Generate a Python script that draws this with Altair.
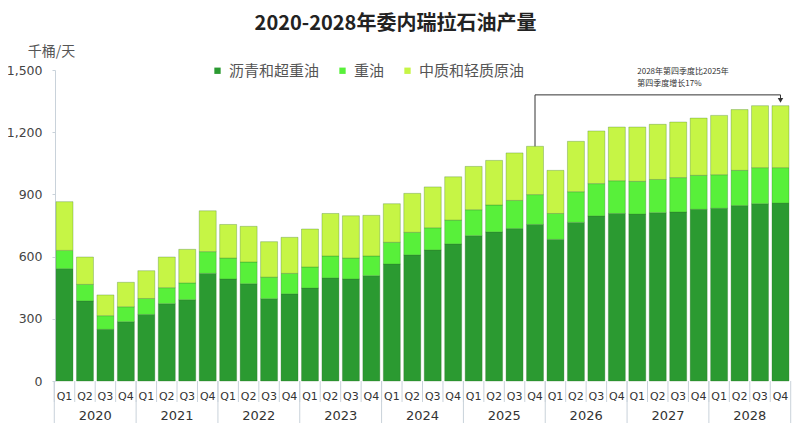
import altair as alt
import pandas as pd

years = ["2020", "2021", "2022", "2023", "2024", "2025", "2026", "2027", "2028"]
quarters = ["Q1", "Q2", "Q3", "Q4"]
series = ["沥青和超重油", "重油", "中质和轻质原油"]
colors = ["#2b9a31", "#58f03a", "#c6f545"]

extra_heavy = [542, 386, 249, 286, 321, 373, 392, 519, 492, 469, 397, 420,
               448, 497, 492, 508, 564, 608, 632, 661, 701, 719, 735, 755,
               683, 765, 796, 808, 805, 812, 815, 828, 833, 846, 855, 858]
heavy = [88, 80, 66, 72, 77, 77, 81, 105, 101, 105, 104, 99,
         102, 106, 101, 95, 105, 109, 107, 115, 125, 130, 136, 144,
         125, 148, 156, 158, 158, 160, 166, 164, 162, 170, 174, 171]
light = [235, 132, 100, 118, 134, 148, 162, 197, 162, 172, 171, 174,
         183, 205, 204, 196, 186, 188, 197, 209, 209, 215, 229, 233,
         208, 243, 254, 259, 262, 266, 268, 276, 286, 293, 299, 299]
y_ticks = [0, 300, 600, 900, 1200, 1500]
y_title = "千桶/天"

keys = [y + q for y in years for q in quarters]
rows = []
for i, k in enumerate(keys):
    for j, (name, vals) in enumerate(zip(series, [extra_heavy, heavy, light])):
        rows.append({"key": k, "series": name, "value": vals[i], "ord": j})
df = pd.DataFrame(rows)
totals = [a + b + c for a, b, c in zip(extra_heavy, heavy, light)]

W, H = 735, 311
P_IN, P_OUT = 0.17, 0.05
step = W / (len(keys) - P_IN + 2 * P_OUT)
half_gap = P_IN * step / 2

grid_col = "#c9d2da"
xscale = alt.Scale(domain=keys, paddingInner=P_IN, paddingOuter=P_OUT)

bars = alt.Chart(df).mark_bar(stroke="#2f6f2a", strokeWidth=0.5, strokeOpacity=0.6).encode(
    x=alt.X("key:N", scale=xscale, title=None,
            axis=alt.Axis(labelExpr="substring(datum.label, 4)", ticks=False, tickSize=0,
                          domain=False, labelAngle=0, labelFont="DejaVu Sans",
                          labelFontSize=11, labelColor="#333", labelPadding=9)),
    y=alt.Y("value:Q", stack="zero", scale=alt.Scale(domain=[0, 1500], nice=False),
            title=y_title,
            axis=alt.Axis(values=y_ticks, format=",d", grid=False, domainColor=grid_col,
                          tickColor=grid_col, tickSize=3, labelPadding=10,
                          labelFont="DejaVu Sans", labelFontSize=12.5, labelColor="#444",
                          titleAngle=0, titleAlign="center",
                          titleBaseline="middle", titleX=-4, titleY=-19,
                          titleFont="Noto Sans CJK SC", titleFontSize=14,
                          titleFontWeight="normal", titleColor="#555")),
    color=alt.Color("series:N", scale=alt.Scale(domain=series, range=colors),
                    legend=alt.Legend(orient="none", legendX=155, legendY=-7,
                                      direction="horizontal", title=None,
                                      symbolType="square", symbolSize=40,
                                      symbolStrokeWidth=0,
                                      labelFont="Noto Sans CJK SC", labelFontSize=15,
                                      labelColor="#555", labelOffset=4,
                                      columnPadding=15, padding=0)),
    order=alt.Order("ord:Q"),
)

q_df = pd.DataFrame({"key": keys})
q_sep = alt.Chart(q_df).mark_rule(color=grid_col, strokeWidth=1, xOffset=-half_gap).encode(
    x=alt.X("key:N", bandPosition=0, title=None),
    y=alt.value(H), y2=alt.value(H + 21),
)
y_df = pd.DataFrame({"key": [y + "Q1" for y in years]})
y_sep = alt.Chart(y_df).mark_rule(color=grid_col, strokeWidth=1, xOffset=-half_gap).encode(
    x=alt.X("key:N", bandPosition=0, title=None),
    y=alt.value(H), y2=alt.value(H + 42),
)
end_df = pd.DataFrame({"key": [keys[-1]]})
end_sep = alt.Chart(end_df).mark_rule(color=grid_col, strokeWidth=1, xOffset=half_gap).encode(
    x=alt.X("key:N", bandPosition=1, title=None),
    y=alt.value(H), y2=alt.value(H + 42),
)
yl_df = pd.DataFrame({"key": [y + "Q2" for y in years], "year": years})
year_labels = alt.Chart(yl_df).mark_text(xOffset=half_gap, fontSize=13, font="DejaVu Sans",
                                         color="#333", baseline="middle").encode(
    x=alt.X("key:N", bandPosition=1, title=None),
    y=alt.value(H + 35),
    text="year:N",
)

# annotation bracket: 2025Q4 -> 2028Q4
i0, i1 = keys.index("2025Q4"), keys.index("2028Q4")
growth = round((totals[i1] / totals[i0] - 1) * 100)
bracket_level = 1380
ann = pd.DataFrame({
    "key": ["2025Q4"], "key2": ["2028Q4"],
    "y0": [totals[i0]], "y1": [totals[i1]],
    "lvl": [bracket_level], "tipc": [totals[i1] + 26],
    "tkey": ["2027Q1"], "ty": [1490],
    "label": [f"2028年第四季度比2025年\n第四季度增长{growth}%"],
})
r1 = alt.Chart(ann).mark_rule(color="#333", strokeWidth=1).encode(
    x=alt.X("key:N", title=None), y=alt.Y("y0:Q", title=y_title), y2="lvl:Q")
r2 = alt.Chart(ann).mark_rule(color="#333", strokeWidth=1).encode(
    x=alt.X("key:N", title=None), x2="key2:N", y=alt.Y("lvl:Q", title=y_title))
r3 = alt.Chart(ann).mark_rule(color="#333", strokeWidth=1).encode(
    x=alt.X("key2:N", title=None), y=alt.Y("lvl:Q", title=y_title), y2="tipc:Q")
arrow = alt.Chart(ann).mark_point(shape="triangle-down", filled=True, size=30,
                                  color="#333", opacity=1).encode(
    x=alt.X("key2:N", title=None), y=alt.Y("tipc:Q", title=y_title))
ann_text = alt.Chart(ann).mark_text(align="left", baseline="middle", lineBreak="\n",
                                    lineHeight=12, fontSize=8, font="Noto Sans CJK SC",
                                    color="#333").encode(
    x=alt.X("tkey:N", title=None), y=alt.Y("ty:Q", title=y_title), text="label:N")

chart = alt.layer(bars, q_sep, y_sep, end_sep, year_labels, r1, r2, r3, arrow, ann_text).properties(
    width=W, height=H,
    autosize=alt.AutoSizeParams(type="none"),
    padding={"left": 47, "top": 62, "right": 2, "bottom": 42},
    title=alt.TitleParams("2020-2028年委内瑞拉石油产量", font="Noto Sans CJK SC",
                          fontSize=20, fontWeight="bold", color="#222",
                          anchor="middle", dx=-27, offset=10),
).configure_view(stroke=None)

chart.save("out.html", embed_options={"renderer": "svg", "actions": False})
